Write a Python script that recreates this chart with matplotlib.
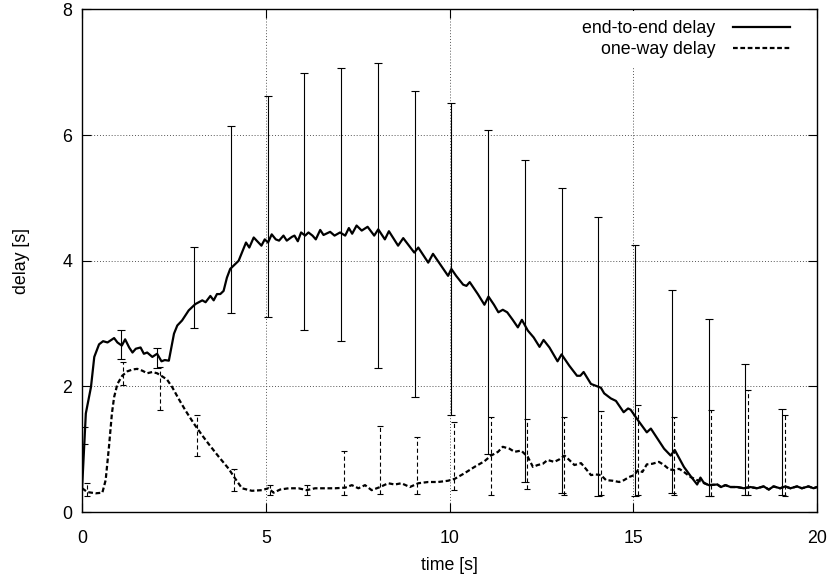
import matplotlib
matplotlib.use("Agg")
import matplotlib.pyplot as plt
import numpy as np

plt.rcParams['font.family'] = ['Liberation Sans', 'DejaVu Sans']
plt.rcParams['lines.scale_dashes'] = False

# ---- data ----
e2e_t = [0.00, 0.10, 0.24, 0.33, 0.46, 0.57, 0.69, 0.87, 0.96, 1.08, 1.17, 1.28, 1.37, 1.46, 1.59,
         1.68, 1.77, 1.91, 2.04, 2.16, 2.25, 2.36, 2.50, 2.59, 2.72, 2.90, 3.08, 3.27, 3.36, 3.49,
         3.58, 3.67, 3.76, 3.85, 3.94, 4.03, 4.17, 4.26, 4.35, 4.46, 4.55, 4.67, 4.80, 4.88, 4.97,
         5.06, 5.16, 5.27, 5.36, 5.48, 5.57, 5.71, 5.78, 5.87, 5.96, 6.07, 6.16, 6.27, 6.36, 6.48,
         6.57, 6.75, 6.87, 7.02, 7.16, 7.26, 7.35, 7.47, 7.61, 7.77, 7.95, 8.06, 8.24, 8.35, 8.60,
         8.74, 9.04, 9.15, 9.42, 9.55, 9.96, 10.05, 10.18, 10.37, 10.46, 10.55, 10.77, 10.95, 11.06,
         11.21, 11.33, 11.45, 11.57, 11.72, 11.86, 11.97, 12.13, 12.29, 12.45, 12.56, 12.72, 12.94,
         13.05, 13.26, 13.47, 13.56, 13.65, 13.85, 14.03, 14.12, 14.21, 14.39, 14.53, 14.74, 14.86,
         14.93, 15.12, 15.37, 15.48, 15.84, 16.02, 16.13, 16.38, 16.58, 16.74, 16.83, 16.93, 17.06,
         17.29, 17.39, 17.51, 17.65, 17.83, 18.01, 18.19, 18.37, 18.55, 18.69, 18.82, 19.00, 19.14,
         19.28, 19.46, 19.59, 19.77, 19.91, 20.00]
e2e_v = [0.40, 1.57, 1.99, 2.47, 2.67, 2.72, 2.70, 2.77, 2.70, 2.65, 2.75, 2.62, 2.54, 2.60, 2.62,
         2.52, 2.54, 2.47, 2.52, 2.40, 2.42, 2.41, 2.84, 2.97, 3.05, 3.21, 3.31, 3.37, 3.34, 3.44,
         3.37, 3.47, 3.47, 3.52, 3.73, 3.87, 3.95, 4.00, 4.13, 4.29, 4.21, 4.37, 4.29, 4.24, 4.34,
         4.29, 4.42, 4.34, 4.32, 4.40, 4.32, 4.38, 4.40, 4.31, 4.45, 4.40, 4.45, 4.40, 4.34, 4.49,
         4.41, 4.46, 4.40, 4.45, 4.40, 4.52, 4.43, 4.56, 4.48, 4.54, 4.40, 4.50, 4.34, 4.47, 4.24,
         4.36, 4.13, 4.21, 3.97, 4.11, 3.76, 3.87, 3.76, 3.62, 3.60, 3.66, 3.47, 3.30, 3.43,
         3.30, 3.18, 3.22, 3.18, 3.06, 2.94, 3.06, 2.89, 2.78, 2.63, 2.74, 2.62, 2.40,
         2.51, 2.33, 2.17, 2.17, 2.23, 2.04, 2.00, 1.98, 1.89, 1.81, 1.77, 1.59, 1.65,
         1.63, 1.47, 1.27, 1.33, 1.01, 0.90, 0.99, 0.72, 0.56, 0.44, 0.55, 0.46, 0.43,
         0.44, 0.40, 0.43, 0.40, 0.40, 0.38, 0.40, 0.38, 0.41, 0.36, 0.41, 0.38, 0.41,
         0.38, 0.41, 0.38, 0.41, 0.38, 0.40]

ow_t = [0.00, 0.14, 0.37, 0.55, 0.64, 0.73, 0.81, 0.87, 0.96, 1.09, 1.23, 1.37, 1.50, 1.64, 1.77,
        1.91, 2.04, 2.18, 2.31, 2.45, 2.63, 2.81, 3.04, 3.27, 3.45, 3.72, 3.99, 4.17, 4.35, 4.62,
        4.89, 5.07, 5.21, 5.39, 5.62, 5.89, 6.11, 6.34, 6.61, 6.88, 7.16, 7.34, 7.52, 7.70, 7.88,
        8.11, 8.33, 8.51, 8.69, 8.92, 9.15, 9.42, 9.69, 9.96, 10.14, 10.41, 10.68, 10.95, 11.13,
        11.32, 11.45, 11.63, 11.77, 11.95, 12.13, 12.27, 12.40, 12.54, 12.67, 12.85, 12.99, 13.13,
        13.26, 13.40, 13.58, 13.71, 13.85, 13.98, 14.12, 14.26, 14.44, 14.62, 14.75, 14.89, 15.03,
        15.13, 15.25, 15.37, 15.52, 15.70, 15.84, 15.98, 16.11, 16.25, 16.38, 16.56, 16.74, 16.88,
        17.06, 17.29, 17.39, 17.51, 17.65, 17.83, 18.01, 18.19, 18.37, 18.55, 18.69, 18.82, 19.00,
        19.14, 19.28, 19.46, 19.59, 19.77, 19.91, 20.00]
ow_v = [0.38, 0.32, 0.30, 0.31, 0.51, 1.04, 1.57, 1.83, 2.04, 2.17, 2.24, 2.27, 2.28, 2.25, 2.21,
        2.23, 2.21, 2.16, 2.11, 1.99, 1.80, 1.62, 1.41, 1.22, 1.08, 0.88, 0.69, 0.53, 0.38, 0.34,
        0.35, 0.38, 0.31, 0.36, 0.38, 0.38, 0.35, 0.38, 0.38, 0.38, 0.39, 0.43, 0.38, 0.43, 0.35,
        0.40, 0.46, 0.44, 0.46, 0.40, 0.46, 0.48, 0.48, 0.50, 0.53, 0.62, 0.72, 0.81, 0.90,
        0.96, 1.04, 1.01, 0.96, 0.98, 0.88, 0.72, 0.75, 0.77, 0.83, 0.80, 0.84, 0.90,
        0.83, 0.75, 0.78, 0.69, 0.59, 0.60, 0.59, 0.51, 0.50, 0.48, 0.51, 0.56, 0.59,
        0.67, 0.64, 0.76, 0.77, 0.80, 0.75, 0.68, 0.67, 0.69, 0.64, 0.56, 0.51, 0.48,
        0.43, 0.44, 0.40, 0.43, 0.40, 0.40, 0.38, 0.40, 0.38, 0.41, 0.36, 0.41, 0.38,
        0.41, 0.38, 0.41, 0.38, 0.41, 0.38, 0.40]

bar_k = list(range(20))
e2e_lo = [1.08, 2.44, 2.29, 2.93, 3.17, 3.10, 2.90, 2.73, 2.29, 1.83, 1.54, 0.93, 0.48, 0.30, 0.25,
          0.26, 0.31, 0.25, 0.27, 0.27]
e2e_hi = [1.35, 2.90, 2.61, 4.22, 6.14, 6.62, 6.98, 7.06, 7.14, 6.70, 6.51, 6.08, 5.61, 5.16, 4.70,
          4.25, 3.54, 3.07, 2.36, 1.64]
ow_lo = [0.25, 2.03, 1.62, 0.89, 0.34, 0.27, 0.27, 0.27, 0.29, 0.29, 0.35, 0.28, 0.37, 0.27, 0.28,
         0.27, 0.28, 0.25, 0.27, 0.25]
ow_hi = [0.46, 2.39, 2.31, 1.54, 0.69, 0.44, 0.44, 0.98, 1.37, 1.20, 1.43, 1.51, 1.49, 1.51, 1.61,
         1.70, 1.51, 1.62, 1.94, 1.54]

labels = ["end-to-end delay", "one-way delay"]
x_ticks = [0, 5, 10, 15, 20]
y_ticks = [0, 2, 4, 6, 8]

# ---- figure ----
fig = plt.figure(figsize=(8.34, 5.83), dpi=100)
ax = fig.add_axes([0.0985, 0.1215, 0.881, 0.8625])

FS = 12.8
dash_line = (0, (3.4, 1.9))

# error bars
e2e_x = np.array(bar_k) + 0.05
ow_x = np.array(bar_k) + 0.12
lo, hi = np.array(e2e_lo), np.array(e2e_hi)
eb1 = ax.errorbar(e2e_x, (lo + hi) / 2, yerr=(hi - lo) / 2, fmt='none', ecolor='black',
                  elinewidth=0.8, capsize=2.8, capthick=0.8, zorder=3)
lo2, hi2 = np.array(ow_lo), np.array(ow_hi)
eb2 = ax.errorbar(ow_x, (lo2 + hi2) / 2, yerr=(hi2 - lo2) / 2, fmt='none', ecolor='black',
                  elinewidth=0.8, capsize=2.0, capthick=0.8, zorder=3)
for lc in eb2[2]:
    lc.set_linestyle((0, (3.0, 2.0)))

# lines
ax.plot(e2e_t, e2e_v, color='black', lw=1.6, label=labels[0], zorder=4)
ax.plot(ow_t, ow_v, color='black', lw=1.6, linestyle=dash_line, label=labels[1], zorder=4)

ax.set_xlim(0, 20)
ax.set_ylim(0, 8)
ax.set_xticks(x_ticks)
ax.set_yticks(y_ticks)
ax.tick_params(direction='in', length=6.5, width=0.8, top=True, right=True,
               labelsize=FS, pad=7, colors='black')
ax.tick_params(axis='x', pad=13)
for s in ax.spines.values():
    s.set_linewidth(1.0)
ax.grid(True, color='#555555', linestyle=(0, (0.7, 1.4)), linewidth=0.7)
ax.set_axisbelow(True)

ax.set_xlabel("time [s]", fontsize=FS, labelpad=7)
ax.set_ylabel("delay [s]", fontsize=FS, labelpad=23)

leg = ax.legend(loc='upper right', bbox_to_anchor=(0.9755, 0.997), markerfirst=False,
                fontsize=FS, frameon=True, fancybox=False, framealpha=1.0, edgecolor='none',
                facecolor='white', handlelength=3.2, handletextpad=1.0, labelspacing=0.25,
                borderpad=0.5, borderaxespad=0.0)
leg.set_zorder(5)

fig.savefig("out.png", dpi=100)
